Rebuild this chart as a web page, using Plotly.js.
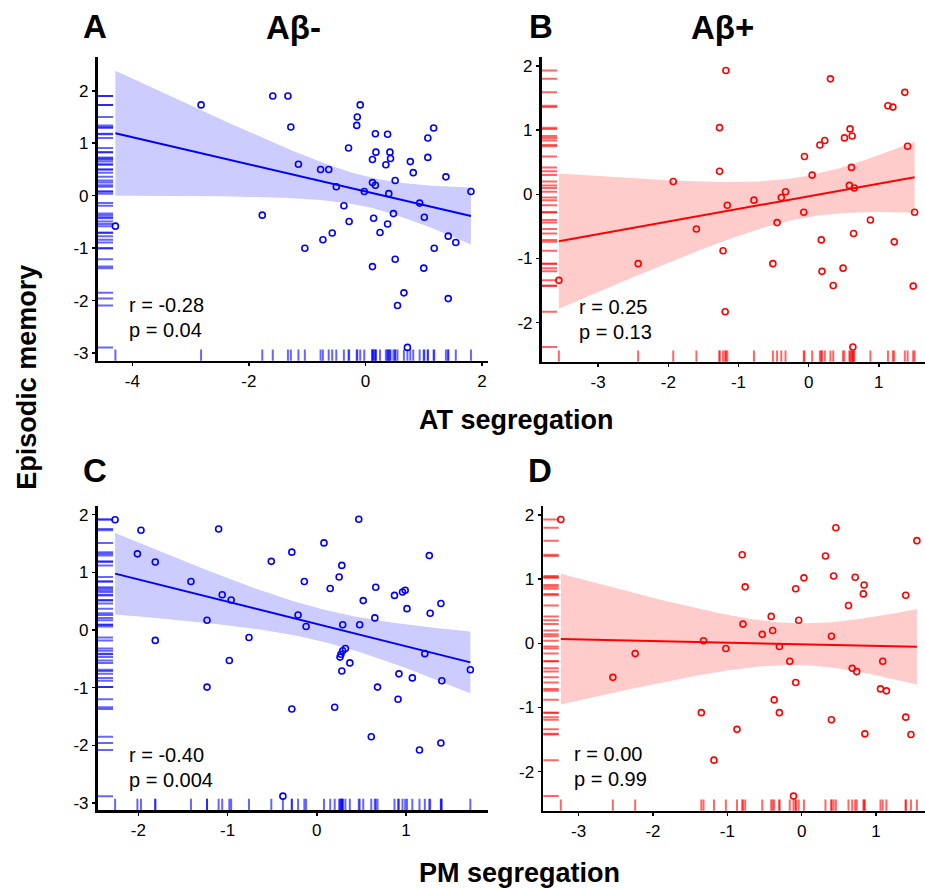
<!DOCTYPE html>
<html>
<head>
<meta charset="utf-8">
<script src="https://cdn.plot.ly/plotly-3.0.1.min.js"></script>
<style>html,body{margin:0;padding:0;background:#fff;}#chart{width:925px;height:888px;}</style>
</head>
<body>
<div id="chart"></div>
<script>
// ---- Data ----
const atNegX = [-4.29,-2.82,-1.77,-1.59,-1.33,-1.28,-1.15,-1.04,-0.77,-0.63,-0.73,-0.57,-0.50,-0.37,-0.29,-0.28,-0.14,-0.15,-0.09,-0.02,0.12,0.17,0.18,0.12,0.17,0.14,0.12,0.25,0.38,0.35,0.42,0.43,0.40,0.38,0.48,0.51,0.51,0.55,0.66,0.72,0.77,0.82,0.93,1.01,1.00,1.07,1.07,1.17,1.18,1.38,1.42,1.42,1.55,1.81];
const atNegY = [-0.58,1.73,-0.37,1.90,1.90,1.31,0.60,-1.00,0.50,0.50,-0.84,-0.71,0.17,-0.19,0.91,-0.49,1.50,1.34,1.73,0.08,0.69,1.18,0.83,0.25,0.20,-0.43,-1.35,-0.70,1.17,0.59,0.83,0.71,0.04,-0.54,-0.34,0.29,-1.21,-2.09,-1.85,-2.89,0.65,0.44,-0.14,-0.41,-1.38,1.10,0.73,1.29,-1.00,0.36,-0.77,-1.96,-0.89,0.08];

const atPosX = [-3.56,-2.43,-1.93,-1.60,-1.27,-1.27,-1.18,-1.22,-1.16,-1.19,-0.78,-0.51,-0.45,-0.39,-0.33,-0.06,-0.07,0.05,0.16,0.23,0.18,0.19,0.31,0.35,0.49,0.51,0.59,0.62,0.61,0.58,0.65,0.64,0.63,0.88,1.13,1.20,1.22,1.37,1.41,1.49,1.51];
const atPosY = [-1.34,-1.08,0.20,-0.54,1.04,0.36,1.93,-0.88,-0.17,-1.83,-0.09,-1.08,-0.44,-0.05,0.04,0.59,-0.28,0.30,0.77,0.84,-0.71,-1.20,1.80,-1.42,-1.15,0.88,1.02,0.91,0.42,0.14,0.10,-0.61,-2.38,-0.40,1.38,1.36,-0.74,1.59,0.75,-1.43,-0.28];

const pmNegX = [-2.26,-1.97,-2.01,-1.81,-1.81,-1.41,-1.10,-1.06,-0.96,-1.23,-1.23,-0.98,-0.76,-0.51,-0.28,-0.28,-0.38,-0.21,-0.14,-0.12,0.08,0.15,0.25,0.28,0.29,0.20,0.26,0.27,0.29,0.32,0.28,0.37,0.47,0.48,0.52,0.61,0.65,0.66,0.68,0.87,0.91,0.92,0.96,0.99,1.01,1.07,1.15,1.21,1.26,1.27,1.39,1.40,1.39,1.72];
const pmNegY = [1.91,1.73,1.32,1.18,-0.18,0.84,1.75,0.61,0.52,0.17,-0.99,-0.53,-0.13,1.19,1.35,-1.37,-2.88,0.26,0.84,0.06,1.51,0.72,0.92,1.12,0.09,-1.34,-0.47,-0.42,-0.36,-0.32,-0.71,-0.57,1.92,0.09,0.51,-1.85,0.21,0.74,-0.99,0.60,-1.20,-0.76,0.66,0.69,0.37,-0.83,-2.08,-0.41,1.29,0.29,0.46,-0.88,-1.96,-0.69];

const pmPosX = [-3.24,-2.54,-2.24,-1.32,-1.35,-1.18,-1.02,-0.87,-0.80,-0.76,-0.79,-0.53,-0.41,-0.39,-0.37,-0.30,-0.30,-0.16,-0.11,-0.08,-0.08,-0.04,0.03,0.32,0.40,0.40,0.43,0.46,0.63,0.68,0.74,0.72,0.84,0.83,0.85,1.09,1.06,1.14,1.40,1.40,1.47,1.55];
const pmPosY = [1.93,-0.53,-0.16,0.04,-1.08,-1.82,-0.08,-1.34,1.38,0.88,0.30,0.14,0.42,0.20,-0.88,-0.05,-1.08,-0.28,-2.38,-0.61,0.85,0.36,1.02,1.36,0.11,-1.19,1.05,1.80,0.59,-0.39,-0.44,1.03,0.91,0.77,-1.41,-0.28,-0.71,-0.74,0.75,-1.15,-1.42,1.60];

// tick values (labels drawn with a plain hyphen as in the reference)
const xTicksA = [-4,-2,0,2];
const xTicksB = [-3,-2,-1,0,1];
const xTicksC = [-2,-1,0,1];
const xTicksD = [-3,-2,-1,0,1];
const yTicksA = [-3,-2,-1,0,1,2];
const yTicksB = [-2,-1,0,1,2];
const yTicksC = [-3,-2,-1,0,1,2];
const yTicksD = [-2,-1,0,1,2];

const panelLetters = ["A","B","C","D"];
const groupTitles = ["Aβ-","Aβ+"];
const rTexts = ["r = -0.28","r = 0.25","r = -0.40","r = 0.00"];
const pTexts = ["p = 0.04","p = 0.13","p = 0.004","p = 0.99"];
const xTitles = ["AT segregation","PM segregation"];
const yTitle = "Episodic memory";

// ---- Helpers ----
function tcrit(df){
  const z = 1.959964;
  return z + (z*z*z + z)/(4*df) + (5*Math.pow(z,5) + 16*z*z*z + 3*z)/(96*df*df);
}
function fitBand(x, y, steps){
  const n = x.length;
  const mx = x.reduce((a,b)=>a+b,0)/n, my = y.reduce((a,b)=>a+b,0)/n;
  let sxx=0, sxy=0;
  for(let i=0;i<n;i++){ sxx += (x[i]-mx)*(x[i]-mx); sxy += (x[i]-mx)*(y[i]-my); }
  const b = sxy/sxx, a = my - b*mx;
  let sse=0; for(let i=0;i<n;i++){ const r=y[i]-(a+b*x[i]); sse+=r*r; }
  const s = Math.sqrt(sse/(n-2)), t = tcrit(n-2);
  const lo = Math.min(...x), hi = Math.max(...x);
  const gx=[], fy=[], up=[], dn=[];
  for(let k=0;k<=steps;k++){
    const xv = lo + (hi-lo)*k/steps;
    const yv = a + b*xv;
    const hw = t*s*Math.sqrt(1/n + (xv-mx)*(xv-mx)/sxx);
    gx.push(xv); fy.push(yv); up.push(yv+hw); dn.push(yv-hw);
  }
  return {gx, fy, up, dn};
}
const lbl = v => String(v);

const blue = {pt:"#0000ff", line:"#0000ff", band:"rgba(0,0,255,0.2)", rug:"rgba(0,0,255,0.6)"};
const red  = {pt:"#ff0000", line:"#ff0000", band:"rgba(255,0,0,0.2)", rug:"rgba(255,0,0,0.6)"};

const panels = [
  {x:atNegX, y:atNegY, col:blue, xa:"x",  ya:"y",  xr:[-4.594,2.103], yr:[-3.143,2.648], xd:[0.1056,0.5276], yd:[0.5938,0.9361], xt:xTicksA, yt:yTicksA},
  {x:atPosX, y:atPosY, col:red,  xa:"x2", ya:"y2", xr:[-3.805,1.658], yr:[-2.608,2.145], xd:[0.5856,1.0],    yd:[0.5927,0.9361], xt:xTicksB, yt:yTicksB},
  {x:pmNegX, y:pmNegY, col:blue, xa:"x3", ya:"y3", xr:[-2.455,1.918], yr:[-3.121,2.150], xd:[0.1056,0.5276], yd:[0.0878,0.4302], xt:xTicksC, yt:yTicksC},
  {x:pmPosX, y:pmPosY, col:red,  xa:"x4", ya:"y4", xr:[-3.475,1.659], yr:[-2.608,2.140], xd:[0.5874,1.0],    yd:[0.0870,0.4302], xt:xTicksD, yt:yTicksD}
];

const traces = [];
const layout = {
  width:925, height:888, margin:{l:0,r:0,t:0,b:0},
  paper_bgcolor:"#fff", plot_bgcolor:"rgba(0,0,0,0)",
  showlegend:false,
  font:{family:"Arial, 'Liberation Sans', sans-serif", color:"#000"},
  annotations:[]
};

panels.forEach((p,i)=>{
  const f = fitBand(p.x, p.y, 120);
  traces.push({type:"scatter", mode:"lines", xaxis:p.xa, yaxis:p.ya,
    x: f.gx.concat(f.gx.slice().reverse()), y: f.up.concat(f.dn.slice().reverse()),
    fill:"toself", fillcolor:p.col.band, line:{width:0, color:"rgba(0,0,0,0)"}, hoverinfo:"skip"});
  traces.push({type:"scatter", mode:"markers", xaxis:p.xa, yaxis:p.ya,
    x:p.x, y:p.x.map(()=>p.yr[0]),
    marker:{symbol:"line-ns-open", size:16, color:p.col.rug, line:{width:2, color:p.col.rug}}, cliponaxis:true});
  traces.push({type:"scatter", mode:"markers", xaxis:p.xa, yaxis:p.ya,
    x:p.y.map(()=>p.xr[0]), y:p.y,
    marker:{symbol:"line-ew-open", size:22, color:p.col.rug, line:{width:2, color:p.col.rug}}, cliponaxis:true});
  traces.push({type:"scatter", mode:"lines", xaxis:p.xa, yaxis:p.ya,
    x:f.gx, y:f.fy, line:{color:p.col.line, width:2}});
  traces.push({type:"scatter", mode:"markers", xaxis:p.xa, yaxis:p.ya,
    x:p.x, y:p.y, cliponaxis:false,
    marker:{symbol:"circle-open", size:6, color:p.col.pt, line:{width:1.6, color:p.col.pt}}});

  const axBase = {showgrid:false, zeroline:false, showline:true, linecolor:"#000", linewidth:2.7,
    ticks:"outside", ticklen:3, tickwidth:1.5, tickcolor:"#000",
    tickfont:{size:17, color:"#000", family:"Arial, 'Liberation Sans', sans-serif"}, fixedrange:true};
  const xn = i===0 ? "xaxis" : "xaxis"+(i+1);
  const yn = i===0 ? "yaxis" : "yaxis"+(i+1);
  layout[xn] = Object.assign({}, axBase, {domain:p.xd, range:p.xr, anchor:p.ya,
    tickmode:"array", tickvals:p.xt, ticktext:p.xt.map(lbl)});
  layout[yn] = Object.assign({}, axBase, {domain:p.yd, range:p.yr, anchor:p.xa,
    tickmode:"array", tickvals:p.yt, ticktext:p.yt.map(lbl)});
});

const statPos = [[0.1373,0.6565,0.6284],[0.6238,0.6546,0.6265],[0.1373,0.1498,0.1216],[0.6184,0.1509,0.1227]];
statPos.forEach((s,i)=>{
  layout.annotations.push({xref:"paper", yref:"paper", x:s[0], y:s[1], xanchor:"left", yanchor:"middle",
    text:rTexts[i], showarrow:false, font:{size:20, color:"#000"}});
  layout.annotations.push({xref:"paper", yref:"paper", x:s[0], y:s[2], xanchor:"left", yanchor:"middle",
    text:pTexts[i], showarrow:false, font:{size:20, color:"#000"}});
});

const letterPos = [[0.1027,0.9707],[0.5849,0.9707],[0.1027,0.4696],[0.5838,0.4696]];
letterPos.forEach((lp,i)=>{
  layout.annotations.push({xref:"paper", yref:"paper", x:lp[0], y:lp[1], xanchor:"center", yanchor:"middle",
    text:"<b>"+panelLetters[i]+"</b>", showarrow:false, font:{size:33, color:"#000"}});
});
[[0.3168,0.9685],[0.7816,0.9685]].forEach((gp,i)=>{
  layout.annotations.push({xref:"paper", yref:"paper", x:gp[0], y:gp[1], xanchor:"center", yanchor:"middle",
    text:"<b>"+groupTitles[i]+"</b>", showarrow:false, font:{size:33, color:"#000"}});
});
layout.annotations.push({xref:"paper", yref:"paper", x:0.558, y:0.527, xanchor:"center", yanchor:"middle",
  text:"<b>"+xTitles[0]+"</b>", showarrow:false, font:{size:27, color:"#000"}});
layout.annotations.push({xref:"paper", yref:"paper", x:0.562, y:0.017, xanchor:"center", yanchor:"middle",
  text:"<b>"+xTitles[1]+"</b>", showarrow:false, font:{size:27, color:"#000"}});
layout.annotations.push({xref:"paper", yref:"paper", x:0.029, y:0.5755, xanchor:"center", yanchor:"middle",
  text:"<b>"+yTitle+"</b>", textangle:-90, showarrow:false, font:{size:27, color:"#000"}});

Plotly.newPlot("chart", traces, layout, {staticPlot:true, displayModeBar:false});
</script>
</body>
</html>
